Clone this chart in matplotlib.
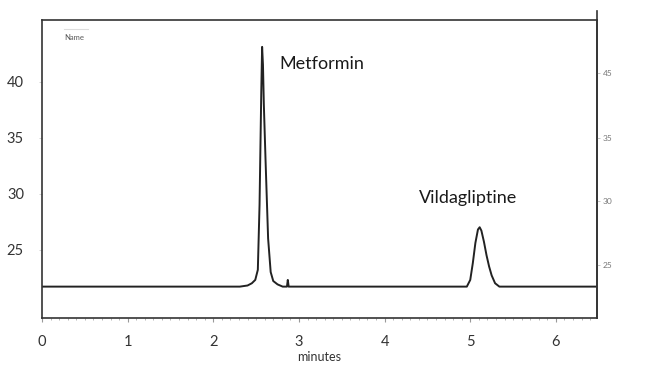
import matplotlib.pyplot as plt
from matplotlib.ticker import MultipleLocator

# chromatogram trace (minutes, response)
times = [0.0, 1.0, 2.0, 2.31, 2.40, 2.45, 2.49, 2.52, 2.54, 2.56, 2.57, 2.58, 2.59, 2.61,
         2.64, 2.67, 2.70, 2.75, 2.81, 2.86, 2.87, 2.88, 3.5, 4.5, 4.96, 5.00, 5.03, 5.06,
         5.09, 5.11, 5.13, 5.16, 5.19, 5.22, 5.25, 5.29, 5.34, 6.0, 6.55]
signal = [21.7, 21.7, 21.7, 21.7, 21.8, 22.0, 22.3, 23.2, 29.0, 39.0, 43.1, 41.5, 38.0, 33.0,
          26.0, 23.0, 22.2, 21.9, 21.7, 21.7, 22.3, 21.7, 21.7, 21.7, 21.7, 22.3, 23.8, 25.6,
          26.8, 27.0, 26.7, 25.7, 24.5, 23.5, 22.7, 22.0, 21.7, 21.7, 21.7]

peak_names = ['Metformin', 'Vildagliptine']
peak_label_pos = [(2.77, 41.6), (4.40, 29.6)]

x_ticks = [0, 1, 2, 3, 4, 5, 6]
left_ticks = [25, 30, 35, 40]
right_ticks = [23.6, 29.3, 35.0, 40.8]
right_labels = ['25', '30', '35', '45']

plt.rcParams['font.family'] = ['Lato', 'DejaVu Sans']

fig = plt.figure(figsize=(6.45, 3.65), dpi=100)
ax = fig.add_axes([0.0651, 0.1288, 0.8605, 0.8164])

ax.plot(times, signal, color='#222222', lw=1.4)
ax.set_xlim(0, 6.48)
ax.set_ylim(18.9, 45.5)

for name, (tx, ty) in zip(peak_names, peak_label_pos):
    ax.text(tx, ty, name, fontsize=13, color='#1a1a1a', va='center')

ax.set_xticks(x_ticks)
ax.xaxis.set_minor_locator(MultipleLocator(0.1))
ax.tick_params(axis='x', which='major', length=3, width=0.8, color='#999999',
               labelsize=10.5, pad=9, labelcolor='#333333')
ax.tick_params(axis='x', which='minor', length=1.5, width=0.6, color='#aaaaaa')
ax.set_yticks(left_ticks)
ax.tick_params(axis='y', length=2, width=0.6, color='#cccccc', labelsize=10.5,
               pad=11, labelcolor='#333333')
ax.set_xlabel('minutes', fontsize=9, color='#333333', labelpad=2)

for s in ax.spines.values():
    s.set_color('#333333')
    s.set_linewidth(1.2)

ax2 = ax.twinx()
ax2.set_ylim(ax.get_ylim())
ax2.set_yticks(right_ticks)
ax2.set_yticklabels(right_labels)
ax2.tick_params(axis='y', length=2, width=0.6, color='#bbbbbb', labelsize=6,
                pad=2, labelcolor='#777777')
ax2.spines['right'].set_bounds(18.9, 46.3)
ax2.spines['right'].set_color('#333333')
ax2.spines['right'].set_linewidth(1.2)
for k in ['left', 'top', 'bottom']:
    ax2.spines[k].set_visible(False)
ax2.spines['right'].set_clip_on(False)

# legend remnant at the top left
ax.plot([0.26, 0.54], [44.7, 44.7], color='#dddddd', lw=0.8)
ax.text(0.26, 43.9, 'Name', fontsize=5.5, color='#555555', va='center')

fig.savefig('out.png', dpi=100)
